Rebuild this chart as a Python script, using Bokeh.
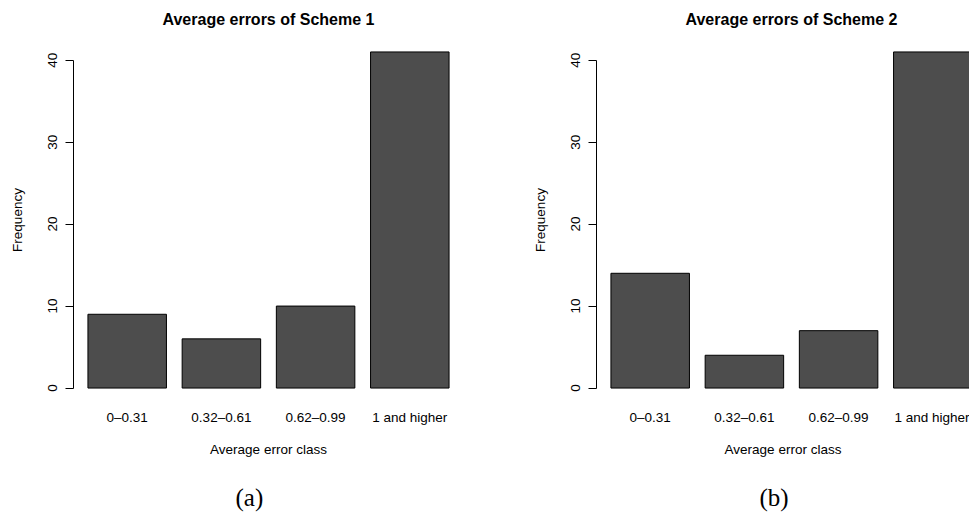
from bokeh.plotting import figure
from bokeh.layouts import row, column
from bokeh.models import Range1d, FixedTicker, ColumnDataSource
from bokeh.core.properties import value
from bokeh.embed import file_html
from bokeh.resources import INLINE

# ---- data ----
categories = ["0\u20130.31", "0.32\u20130.61", "0.62\u20130.99", "1 and higher"]
scheme1_counts = [9, 6, 10, 41]
scheme2_counts = [14, 4, 7, 41]
y_ticks = [0, 10, 20, 30, 40]
titles = ["Average errors of Scheme 1", "Average errors of Scheme 2"]
captions = ["(a)", "(b)"]
x_label = "Average error class"
y_label = "Frequency"

SANS = "Liberation Sans"
SERIF = "Liberation Serif"
BAR_FILL = "#4D4D4D"

H = 470          # height of each chart panel
CAP_H = 43       # height of the caption strip below
TOP = 38
FRAME_H = 363
PAD = 0.07
BAR_W = 1 / 1.2
LEFT_FRAME_W = 390
PX_PER_UNIT = LEFT_FRAME_W / (len(categories) + 2 * PAD)


def make_panel(values, title, width, border_left, border_right):
    frame_w = width - border_left - border_right
    x_end = -PAD + frame_w / PX_PER_UNIT
    ymax = max(values)
    ypad = 0.04 * ymax
    p = figure(width=width, height=H, output_backend="svg", toolbar_location=None,
               x_range=Range1d(-PAD, x_end), y_range=Range1d(-ypad, ymax + ypad),
               min_border_left=border_left, min_border_right=border_right,
               min_border_top=TOP, min_border_bottom=H - TOP - FRAME_H,
               background_fill_color="white", border_fill_color="white")
    p.outline_line_color = None
    p.grid.visible = False

    xs = [i + 0.5 for i in range(len(categories))]
    src = ColumnDataSource(dict(x=xs, top=values, cat=categories))
    p.vbar(x="x", top="top", bottom=0, width=BAR_W, source=src,
           fill_color=BAR_FILL, line_color="black", line_width=1)

    # title
    p.title.text = title
    p.title.align = "left"
    p.title.offset = 89
    p.title.vertical_align = "top"
    p.title.standoff = 17
    p.title.text_font = SANS
    p.title.text_font_size = "16px"
    p.title.text_font_style = "bold"
    p.title.text_color = "black"

    # x axis (labels only)
    xa = p.xaxis[0]
    xa.ticker = FixedTicker(ticks=xs)
    xa.major_label_overrides = {x: c for x, c in zip(xs, categories)}
    xa.axis_line_color = None
    xa.major_tick_line_color = None
    xa.minor_tick_line_color = None
    xa.major_tick_out = 0
    xa.major_tick_in = 0
    xa.major_label_standoff = 8
    xa.major_label_text_font = SANS
    xa.major_label_text_font_size = "13.5px"
    xa.major_label_text_color = "black"
    xa.axis_label = x_label
    xa.axis_label_text_font = SANS
    xa.axis_label_text_font_size = "13.5px"
    xa.axis_label_text_font_style = "normal"
    xa.axis_label_text_color = "black"
    xa.axis_label_standoff = 14

    # y axis
    ya = p.yaxis[0]
    ya.ticker = FixedTicker(ticks=y_ticks)
    ya.bounds = (min(y_ticks), max(y_ticks))
    ya.axis_line_color = "black"
    ya.major_tick_line_color = "black"
    ya.minor_tick_line_color = None
    ya.major_tick_out = 8
    ya.major_tick_in = 0
    ya.major_label_orientation = "vertical"
    ya.major_label_standoff = 8
    ya.major_label_text_font = SANS
    ya.major_label_text_font_size = "13.5px"
    ya.major_label_text_color = "black"
    ya.axis_label = y_label
    ya.axis_label_text_font = SANS
    ya.axis_label_text_font_size = "13.5px"
    ya.axis_label_text_font_style = "normal"
    ya.axis_label_text_color = "black"
    ya.axis_label_standoff = 21
    return p


def make_caption(text, width, x_left):
    c = figure(width=width, height=CAP_H, output_backend="svg", toolbar_location=None,
               title=None,
               x_range=Range1d(0, width), y_range=Range1d(0, CAP_H),
               x_axis_location=None, y_axis_location=None,
               min_border=0, min_border_left=0, min_border_right=0,
               min_border_top=0, min_border_bottom=0,
               background_fill_color="white", border_fill_color="white")
    c.outline_line_color = None
    c.grid.visible = False
    c.text(x=[x_left], y=[CAP_H / 2 - 5], text=[text], text_font=value(SERIF),
           text_font_size="25px", text_color="black",
           text_align="left", text_baseline="middle")
    return c


p1 = make_panel(scheme1_counts, titles[0], 488, 73, 25)
p2 = make_panel(scheme2_counts, titles[1], 481, 108, 0)
c1 = make_caption(captions[0], 488, 235)
c2 = make_caption(captions[1], 481, 271)

layout = column(row(p1, p2), row(c1, c2))
open("out.html", "w").write(file_html(layout, INLINE))
